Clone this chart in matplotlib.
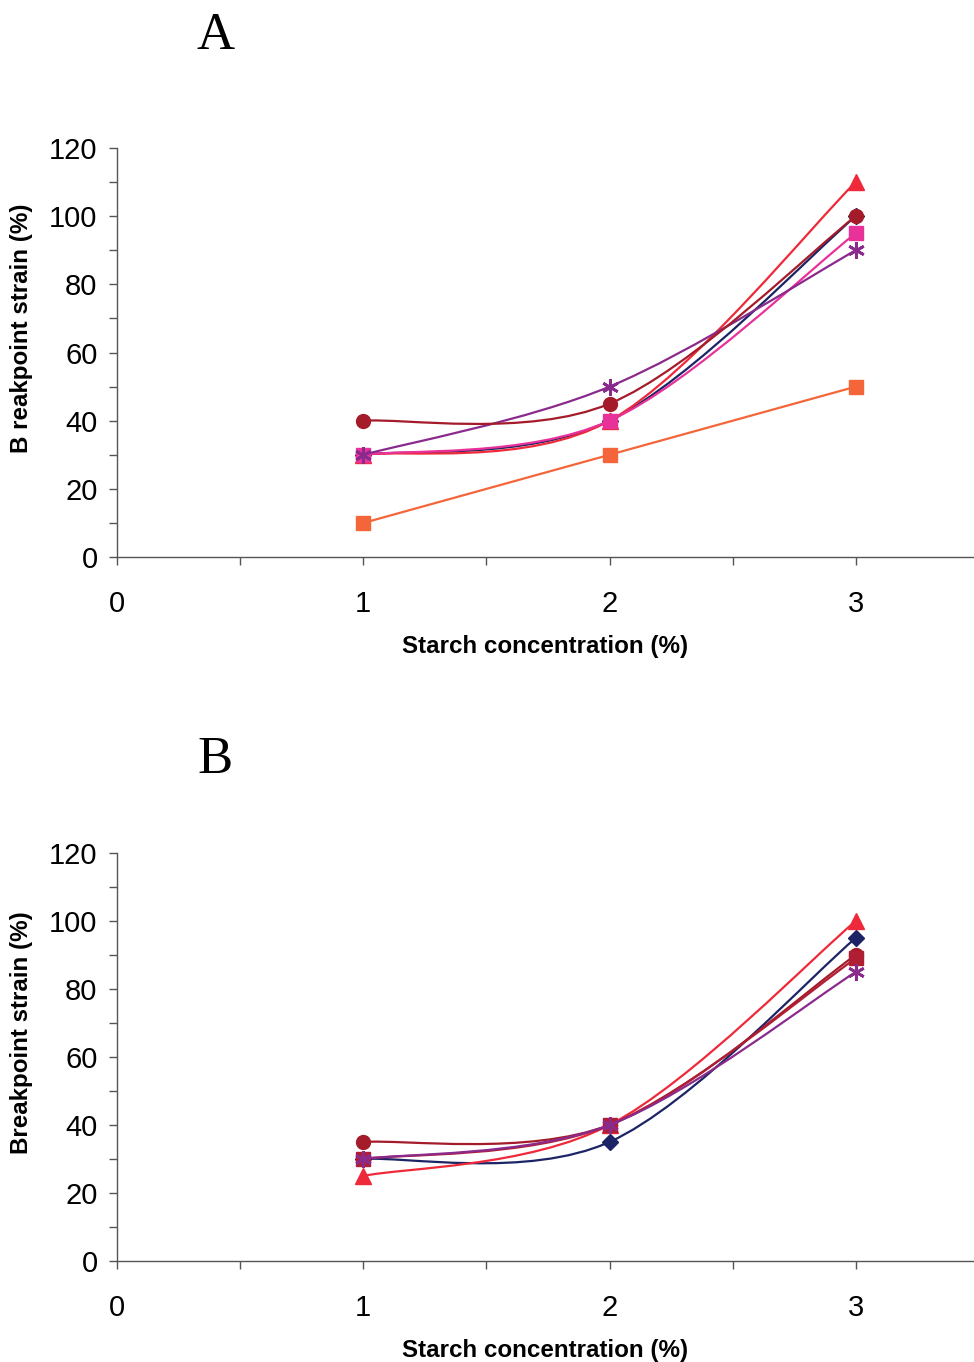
import matplotlib

matplotlib.use("Agg")
import matplotlib.pyplot as plt
from matplotlib.path import Path
from matplotlib.patches import PathPatch
from matplotlib.ticker import MultipleLocator

plt.rcParams["font.family"] = ["Liberation Sans", "DejaVu Sans"]

# ── data ─────────────────────────────────────────────────────────────────────
conc = [1, 2, 3]

# panel A
a_diamond = [30, 40, 100]
a_triangle = [30, 40, 110]
a_pink_sq = [30, 40, 95]
a_star = [30, 50, 90]
a_circle = [40, 45, 100]
a_orange_sq = [10, 30, 50]

# panel B
b_diamond = [30, 35, 95]
b_circle = [35, 40, 90]
b_triangle = [25, 40, 100]
b_square = [30, 40, 89]
b_star = [30, 40, 85]

NAVY = "#1c2466"
RED = "#ee2a3a"
PINK = "#e8329a"
PURPLE = "#8a2a8c"
DARKRED = "#a41c2a"
ORANGE = "#f4663a"
SQRED = "#b01e34"


def smooth_path(x, y):
    """Excel-style smoothed line through the points (cubic Bezier)."""
    n = len(x)
    pts = list(zip(x, y))
    verts = [pts[0]]
    codes = [Path.MOVETO]
    for i in range(n - 1):
        p0 = pts[max(i - 1, 0)]
        p1 = pts[i]
        p2 = pts[i + 1]
        p3 = pts[min(i + 2, n - 1)]
        c1 = (p1[0] + (p2[0] - p0[0]) / 6, p1[1] + (p2[1] - p0[1]) / 6)
        c2 = (p2[0] - (p3[0] - p1[0]) / 6, p2[1] - (p3[1] - p1[1]) / 6)
        verts += [c1, c2, p2]
        codes += [Path.CURVE4] * 3
    return Path(verts, codes)


def draw_series(ax, y, color, marker, ms, z):
    ax.add_patch(PathPatch(smooth_path(conc, y), fill=False, edgecolor=color,
                           linewidth=1.6, zorder=z))
    mk = dict(marker=marker, markersize=ms, color=color, linestyle="none", zorder=z + 0.5)
    if marker == "*":
        mk.update(marker=(6, 2, 0), markeredgewidth=2.0, markeredgecolor=color)
    ax.plot(conc, y, **mk)


def style_axes(ax, ylabel):
    ax.set_xlim(0, 3.48)
    ax.set_ylim(0, 120)
    ax.xaxis.set_major_locator(MultipleLocator(1))
    ax.xaxis.set_minor_locator(MultipleLocator(0.5))
    ax.yaxis.set_major_locator(MultipleLocator(20))
    ax.yaxis.set_minor_locator(MultipleLocator(10))
    ax.spines[["top", "right"]].set_visible(False)
    for s in ("left", "bottom"):
        ax.spines[s].set_color("#555555")
        ax.spines[s].set_linewidth(1.0)
    ax.tick_params(axis="both", which="both", direction="out", color="#555555", width=1.0)
    ax.tick_params(axis="both", which="major", length=6)
    ax.tick_params(axis="both", which="minor", length=6)
    ax.tick_params(axis="y", labelsize=21, pad=8)
    ax.tick_params(axis="x", labelsize=21, pad=18)
    for lab in ax.get_xticklabels():
        lab.set_family(["Liberation Sans Narrow", "Liberation Sans", "DejaVu Sans"])
    ax.set_xlabel("Starch concentration (%)", fontsize=17.4, fontweight="bold", labelpad=12)
    ax.set_ylabel(ylabel, fontsize=17.4, fontweight="bold")
    ax.yaxis.set_label_coords(-0.098, 0.56)


fig = plt.figure(figsize=(9.74, 13.62), dpi=100)
ax_a = fig.add_axes([0.1201, 0.591, 0.8799, 0.3003])
ax_b = fig.add_axes([0.1201, 0.0742, 0.8799, 0.2995])

# panel A
draw_series(ax_a, a_diamond, NAVY, "D", 8, 2)
draw_series(ax_a, a_triangle, RED, "^", 11, 3)
draw_series(ax_a, a_pink_sq, PINK, "s", 10, 4)
draw_series(ax_a, a_star, PURPLE, "*", 12, 5)
draw_series(ax_a, a_circle, DARKRED, "o", 10, 6)
draw_series(ax_a, a_orange_sq, ORANGE, "s", 10, 7)
style_axes(ax_a, "B reakpoint strain (%)")

# panel B
draw_series(ax_b, b_diamond, NAVY, "D", 8, 2)
draw_series(ax_b, b_circle, DARKRED, "o", 10, 3)
draw_series(ax_b, b_triangle, RED, "^", 11, 4)
draw_series(ax_b, b_square, SQRED, "s", 10, 5)
draw_series(ax_b, b_star, PURPLE, "*", 12, 6)
style_axes(ax_b, "Breakpoint strain (%)")

for ax in (ax_a, ax_b):
    for a in ax.patches + ax.lines:
        a.set_clip_on(False)

fig.text(0.221, 0.991, "A", family=["Liberation Serif", "DejaVu Serif"], fontsize=38,
         ha="center", va="top")
fig.text(0.221, 0.4597, "B", family=["Liberation Serif", "DejaVu Serif"], fontsize=38,
         ha="center", va="top")

fig.savefig("out.png", dpi=100)
plt.close(fig)
